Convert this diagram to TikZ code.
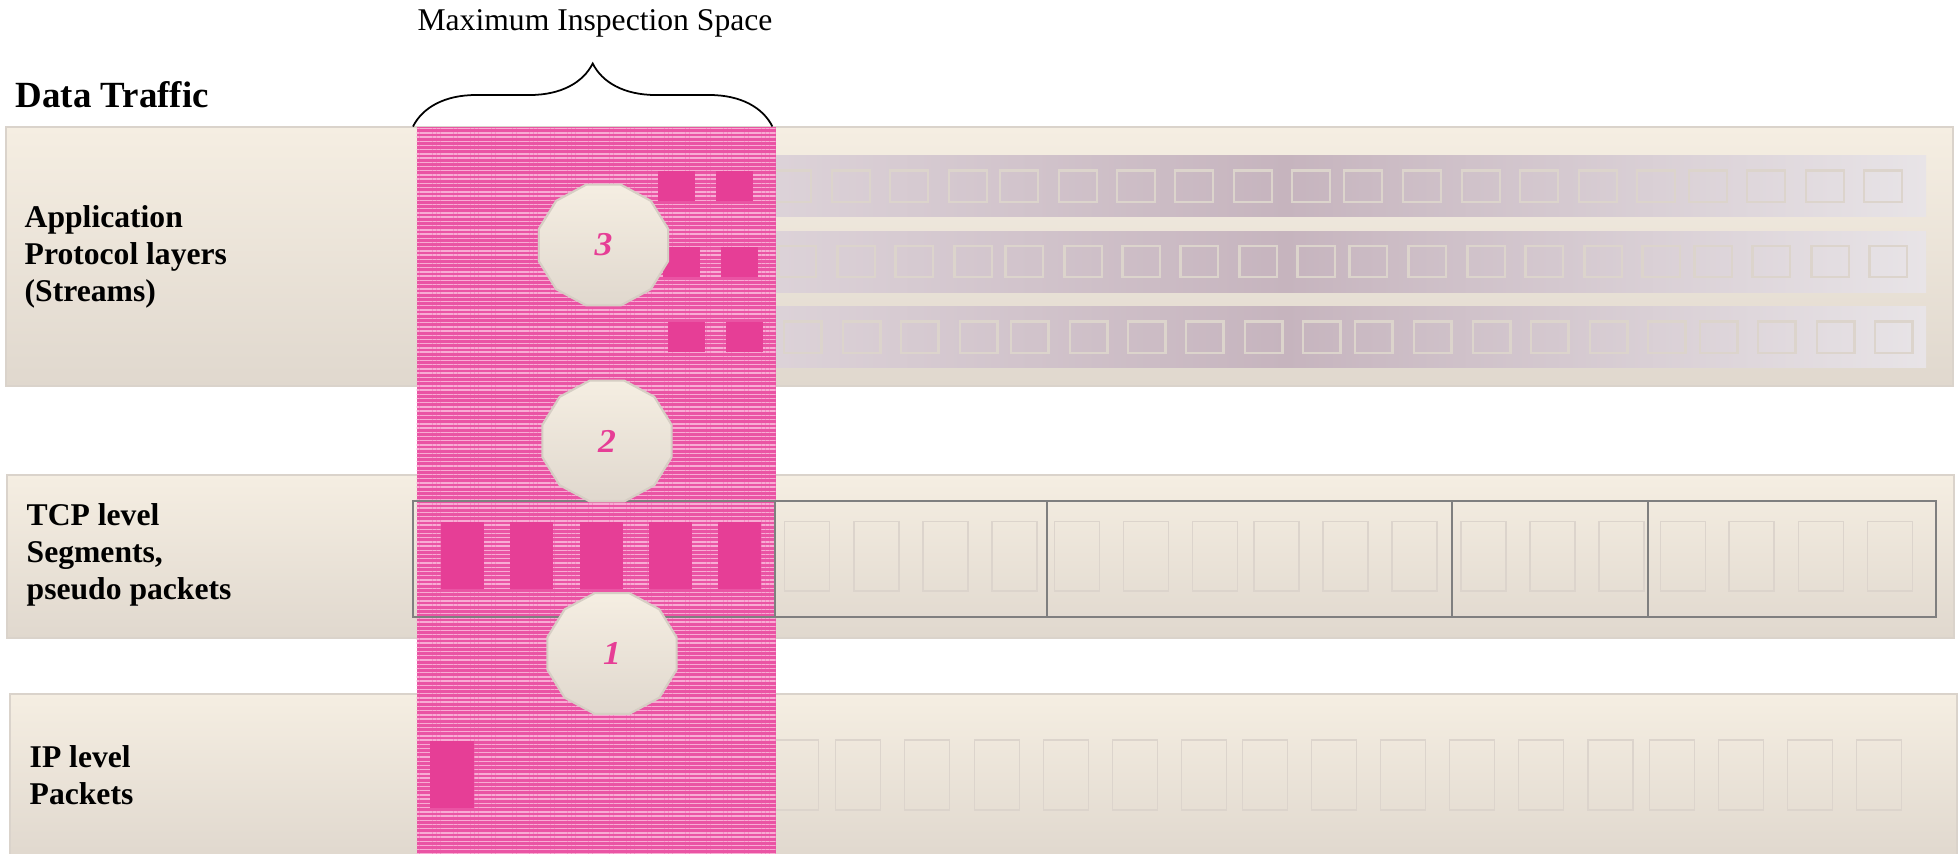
\documentclass[tikz,border=0pt]{standalone}
\usepackage{fontspec}
\setmainfont{Liberation Serif}
\usetikzlibrary{shapes.geometric,decorations.pathreplacing,patterns.meta}

\definecolor{bandtop}{RGB}{245,238,226}
\definecolor{bandbot}{RGB}{224,216,206}
\definecolor{bandline}{RGB}{218,211,203}
\definecolor{hot}{RGB}{230,62,150}
\definecolor{hotbase}{RGB}{234,84,164}
\definecolor{hotlite}{RGB}{248,172,212}
\definecolor{stream}{RGB}{198,180,190}
\definecolor{streamend}{RGB}{226,218,223}
\definecolor{streamlite}{RGB}{232,228,231}
\definecolor{slotline}{RGB}{220,212,204}
\definecolor{segline}{RGB}{127,127,127}
\definecolor{stageline}{RGB}{214,206,196}

\begin{document}
\begin{tikzpicture}[
    font=\fontsize{9}{10.6}\selectfont,
    band/.style={draw=bandline,line width=0.6pt,top color=bandtop,bottom color=bandbot,
        anchor=north west,inner sep=0pt,minimum width=19.47cm},
    layer/.style={font=\fontsize{9}{10.6}\selectfont\bfseries,align=left,anchor=west,inner sep=0pt},
    strip/.style={left color=streamend,right color=streamlite,middle color=stream},
    slot/.style={draw=slotline,line width=0.7pt,minimum width=0.375cm,minimum height=0.315cm,inner sep=0pt},
    pkt/.style={draw=slotline,line width=0.45pt,minimum width=0.45cm,minimum height=0.695cm,inner sep=0pt},
    hotbox/.style={fill=hot,inner sep=0pt},
    inspect/.style={fill=hotbase,anchor=north west,inner sep=0pt,
        postaction={pattern={Lines[angle=0,distance=1.2pt,line width=0.4pt]},pattern color=hotlite}},
    segbox/.style={draw=segline,line width=0.6pt},
    stage/.style={regular polygon,regular polygon sides=12,minimum size=1.25cm,inner sep=0pt,
        xscale=1.07,draw=stageline,line width=0.6pt,top color=bandtop,bottom color=bandbot,
        text=hot,font=\fontsize{9.5}{11}\selectfont\bfseries\itshape}
]
\path[use as bounding box] (0,0) rectangle (19.59,-8.54);

% the three layers
\node[band,minimum height=2.59cm] (app) at (0.05,-1.26) {};
\node[band,minimum height=1.63cm] (tcp) at (0.06,-4.74) {};
\node[band,minimum height=1.64cm] (ip) at (0.09,-6.93) {};
\node[layer] (appL) at (0.24,-2.57) {Application\\Protocol layers\\(Streams)};
\node[layer] (tcpL) at (0.26,-5.55) {TCP level\\Segments,\\pseudo packets};
\node[layer] (ipL) at (0.29,-7.75) {IP level\\Packets};
\node[font=\fontsize{10.5}{12}\selectfont\bfseries,anchor=base west,inner sep=0pt] (title)
    at (0.15,-1.075) {Data Traffic};

% streams
\foreach \r/\y/\d in {1/-1.863/0,2/-2.615/0.053,3/-3.374/0.106} {
    \fill[strip] (6.45,\y+0.305) rectangle (19.26,\y-0.305);
    \foreach \x [count=\k] in {7.92,8.51,9.09,9.68,10.19,10.78,11.36,11.94,12.53,13.11,
                               13.63,14.22,14.81,15.39,15.98,16.56,17.08,17.66,18.25,18.83}
        \node[slot] (q\r-\k) at (\x+\d,\y) {};
}
% segments and packets outside the window
\foreach \x [count=\k] in {8.07,8.766,9.455,10.145,10.77,11.46,12.15,12.763,13.454,
                           14.143,14.833,15.524,16.213,16.828,17.517,18.21,18.90}
    \node[pkt] (t\k) at (\x,-5.562) {};
\foreach \x [count=\k] in {7.96,8.58,9.27,9.968,10.66,11.348,12.04,12.65,13.34,
                           14.03,14.72,15.41,16.105,16.72,17.408,18.10,18.788}
    \node[pkt] (p\k) at (\x,-7.75) {};

% inspection window
\node[inspect,minimum width=3.59cm,minimum height=7.3cm] (mis) at (4.16,-1.265) {};
\foreach \r/\y/\d in {1/-1.863/0,2/-2.615/0.053,3/-3.374/0.106}
    \foreach \x [count=\k] in {6.76,7.34}
        \node[hotbox,minimum width=0.37cm,minimum height=0.30cm] (h\r-\k) at (\x+\d,\y) {};
\foreach \x [count=\k] in {4.62,5.315,6.01,6.70,7.394}
    \node[hotbox,minimum width=0.43cm,minimum height=0.67cm] (ht\k) at (\x,-5.557) {};
\node[hotbox,minimum width=0.435cm,minimum height=0.67cm] (hp1) at (4.518,-7.745) {};
\foreach \a/\b in {4.13/7.75,7.75/10.47,10.47/14.52,14.52/16.48,16.48/19.36}
    \draw[segbox] (\a,-5.01) rectangle (\b,-6.17);

\node[stage] (s3) at (6.035,-2.45) {3};
\node[stage] (s2) at (6.07,-4.41) {2};
\node[stage] (s1) at (6.12,-6.535) {1};

\draw[decorate,decoration={brace,amplitude=0.63cm},line width=0.5pt]
    ([xshift=-0.03cm]mis.north west) -- ([xshift=-0.04cm]mis.north east);
\node[font=\fontsize{9}{11}\selectfont,anchor=base] (misL) at (5.95,-0.307) {Maximum Inspection Space};
\end{tikzpicture}
\end{document}
